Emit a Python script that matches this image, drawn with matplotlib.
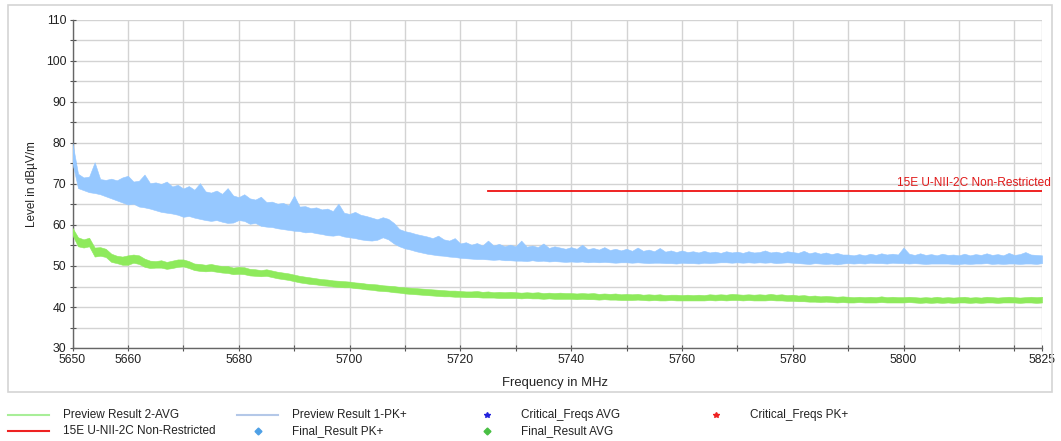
import numpy as np
import matplotlib
matplotlib.use('Agg')
import matplotlib.pyplot as plt
from matplotlib.lines import Line2D
from matplotlib.patches import Rectangle

plt.rcParams['font.family'] = ['Liberation Sans', 'DejaVu Sans']

# frequency grid of the read-off envelopes (1 MHz)
freq = np.arange(5650, 5826)

# Preview Result 1-PK+ : upper / lower edge of the noisy trace (dBuV/m)
pk_hi = [80.0, 72.5, 71.6, 71.8, 75.3, 71.2, 71.0, 71.3, 70.9, 71.6,
         72.0, 70.6, 70.8, 72.3, 70.2, 70.4, 70.0, 70.6, 69.4, 69.8,
         68.9, 69.5, 68.6, 70.2, 68.2, 67.9, 68.4, 67.6, 69.0, 67.2,
         66.8, 67.5, 66.5, 66.2, 66.9, 65.6, 65.7, 65.2, 65.4, 64.8,
         67.2, 64.5, 64.6, 64.1, 64.3, 63.8, 64.0, 63.4, 65.2, 63.0,
         62.7, 63.2, 62.5, 62.2, 61.8, 61.4, 61.9, 61.5, 60.5, 59.0,
         58.5, 58.2, 57.8, 57.5, 57.2, 56.8, 57.4, 56.5, 56.2, 56.8,
         55.5, 55.8, 55.2, 55.6, 55.0, 56.2, 55.0, 55.4, 54.8, 55.2,
         54.8, 56.2, 54.7, 55.0, 54.6, 55.5, 54.4, 54.8, 54.5, 54.2,
         54.6, 54.2, 55.2, 54.1, 54.4, 54.0, 54.6, 53.9, 54.2, 53.8,
         54.2, 53.7, 54.5, 53.7, 54.0, 53.6, 54.4, 53.5, 53.8, 53.4,
         53.8, 53.4, 53.6, 53.3, 53.7, 53.3, 53.5, 53.2, 53.6, 53.3,
         53.5, 53.2, 53.6, 53.3, 53.4, 53.8, 53.3, 53.5, 53.2, 53.6,
         53.4, 53.2, 53.7, 53.1, 53.4, 53.0, 53.3, 52.9, 53.2, 52.8,
         52.8, 52.6, 52.9, 52.6, 53.0, 52.7, 53.1, 52.8, 53.0, 52.8,
         54.5, 53.0, 52.7, 53.1, 52.7, 52.9, 52.6, 53.0, 52.7, 52.8,
         52.6, 53.0, 52.6, 52.9, 52.7, 53.1, 52.7, 52.9, 52.6, 53.2,
         52.7, 52.9, 53.4, 52.8, 52.7, 52.6]
pk_lo = [75.0, 69.0, 68.5, 68.0, 67.8, 67.5, 67.0, 66.5, 66.0, 65.5,
         65.0, 65.2, 64.5, 64.3, 64.0, 63.6, 63.2, 63.0, 62.8, 62.5,
         62.0, 62.2, 61.8, 61.5, 61.2, 61.0, 61.2, 60.8, 60.5, 60.6,
         61.2, 61.0, 60.3, 60.5, 59.8, 59.6, 59.5, 59.2, 59.0, 58.8,
         58.6, 58.5, 58.2, 58.3, 58.0, 57.8, 57.5, 57.4, 57.6, 57.2,
         57.0, 56.8, 56.5, 56.3, 56.2, 56.4, 57.0, 56.5, 55.5, 54.8,
         54.3, 54.0, 53.6, 53.3, 53.0, 52.8, 52.6, 52.5, 52.3, 52.2,
         52.0, 51.9, 51.8, 51.7, 51.7, 51.6, 51.5, 51.6, 51.4, 51.4,
         51.3, 51.3, 51.2, 51.4, 51.2, 51.3, 51.1, 51.2, 51.1, 51.0,
         51.1, 51.0, 51.1, 50.9, 51.0, 50.9, 51.0, 50.9, 50.8, 50.9,
         50.9, 50.8, 50.9, 50.8, 50.7, 50.8, 50.8, 50.7, 50.7, 50.6,
         50.8, 50.7, 50.7, 50.6, 50.8, 50.7, 50.8, 50.9, 50.9, 50.8,
         50.9, 50.8, 50.9, 50.8, 50.9, 50.8, 50.9, 50.7, 50.8, 50.9,
         50.8, 50.7, 50.6, 50.5, 50.7, 50.6, 50.5, 50.6, 50.4, 50.6,
         50.7, 50.6, 50.7, 50.6, 50.8, 50.7, 50.7, 50.6, 50.8, 50.7,
         50.7, 50.6, 50.7, 50.6, 50.5, 50.6, 50.6, 50.6, 50.6, 50.5,
         50.5, 50.6, 50.5, 50.6, 50.6, 50.7, 50.5, 50.6, 50.5, 50.6,
         50.6, 50.5, 50.6, 50.6, 50.5, 50.7]

# Preview Result 2-AVG : upper / lower edge
avg_hi = [59.3, 57.0, 56.5, 56.9, 54.5, 54.6, 54.2, 53.0, 52.5, 52.3,
          52.6, 52.8, 52.6, 51.8, 51.3, 51.2, 51.4, 51.0, 51.3, 51.6,
          51.6, 51.2, 50.6, 50.5, 50.3, 50.5, 50.2, 50.0, 50.0, 49.6,
          49.8, 49.7, 49.3, 49.2, 49.0, 49.2, 48.9, 48.6, 48.4, 48.2,
          47.9, 47.6, 47.4, 47.2, 47.0, 46.8, 46.7, 46.5, 46.4, 46.3,
          46.2, 46.0, 45.9, 45.7, 45.6, 45.5, 45.3, 45.2, 45.1, 44.9,
          44.8, 44.7, 44.6, 44.5, 44.4, 44.3, 44.2, 44.1, 44.0, 44.0,
          43.9, 43.8, 43.8, 43.9, 43.7, 43.8, 43.6, 43.7, 43.6, 43.7,
          43.6, 43.5, 43.6, 43.5, 43.6, 43.4, 43.5, 43.4, 43.5, 43.4,
          43.4, 43.3, 43.4, 43.3, 43.4, 43.2, 43.3, 43.2, 43.3, 43.1,
          43.2, 43.1, 43.2, 43.0, 43.1, 43.0, 43.1, 42.9, 43.0, 43.0,
          42.9, 43.0, 42.9, 43.0, 42.9, 43.1, 43.0, 43.1, 43.0, 43.2,
          43.1, 43.0, 43.1, 43.0, 43.1, 43.0, 43.2, 43.0, 43.1, 42.9,
          43.0, 42.8, 42.9, 42.7, 42.8, 42.6, 42.7, 42.6, 42.5, 42.6,
          42.5, 42.4, 42.5, 42.4, 42.5, 42.4, 42.6, 42.4, 42.5, 42.4,
          42.4, 42.5, 42.4, 42.3, 42.4, 42.3, 42.5, 42.3, 42.4, 42.3,
          42.4, 42.5, 42.3, 42.4, 42.3, 42.5, 42.4, 42.3, 42.4, 42.5,
          42.4, 42.3, 42.4, 42.5, 42.4, 42.5]
avg_lo = [57.5, 54.8, 54.5, 54.8, 52.3, 52.5, 52.2, 51.0, 50.7, 50.3,
          50.3, 50.8, 50.5, 49.8, 49.5, 49.6, 49.6, 49.3, 49.5, 49.8,
          49.9, 49.5, 49.0, 48.8, 48.7, 48.8, 48.6, 48.4, 48.3, 48.0,
          48.1, 48.0, 47.7, 47.6, 47.5, 47.6, 47.3, 47.0, 46.8, 46.6,
          46.3, 46.0, 45.8, 45.6, 45.5, 45.3, 45.2, 45.0, 44.9, 44.8,
          44.8, 44.6, 44.5, 44.3, 44.2, 44.0, 43.9, 43.8, 43.6, 43.5,
          43.3, 43.2, 43.1, 43.0, 42.9, 42.8, 42.7, 42.6, 42.6, 42.5,
          42.5, 42.4, 42.4, 42.4, 42.3, 42.3, 42.3, 42.2, 42.2, 42.2,
          42.2, 42.1, 42.2, 42.1, 42.1, 42.0, 42.1, 42.0, 42.0, 42.0,
          42.0, 41.9, 42.0, 41.9, 41.9, 41.8, 41.9, 41.8, 41.8, 41.7,
          41.7, 41.7, 41.8, 41.7, 41.6, 41.7, 41.6, 41.6, 41.7, 41.6,
          41.6, 41.6, 41.6, 41.6, 41.6, 41.7, 41.6, 41.7, 41.6, 41.7,
          41.7, 41.6, 41.7, 41.6, 41.6, 41.6, 41.7, 41.6, 41.6, 41.5,
          41.5, 41.4, 41.4, 41.3, 41.3, 41.2, 41.3, 41.2, 41.1, 41.2,
          41.1, 41.1, 41.2, 41.1, 41.1, 41.1, 41.2, 41.1, 41.1, 41.1,
          41.1, 41.2, 41.1, 41.0, 41.1, 41.0, 41.1, 41.0, 41.1, 41.0,
          41.1, 41.1, 41.0, 41.1, 41.0, 41.1, 41.1, 41.0, 41.1, 41.1,
          41.1, 41.0, 41.1, 41.1, 41.0, 41.1]

# limit line
limit_f = [5725, 5825]
limit_lvl = [68.2, 68.2]
limit_name = '15E U-NII-2C Non-Restricted'

xticks = [5650, 5660, 5670, 5680, 5690, 5700, 5710, 5720, 5730, 5740, 5750,
          5760, 5770, 5780, 5790, 5800, 5810, 5820, 5825]
xlabels = ['5650', '5660', '', '5680', '', '5700', '', '5720', '', '5740', '',
           '5760', '', '5780', '', '5800', '', '', '5825']
yticks = np.arange(30, 111, 5)
ylabels = [str(v) if v % 10 == 0 else '' for v in yticks]

c_pk = '#96c8ff'
c_avg = '#8eea5c'
c_grid = '#d3d3d3'

W, H = 1061, 441
fig = plt.figure(figsize=(W / 100, H / 100), dpi=100)
ax = fig.add_axes([72.5 / W, 1 - 348 / H, (1042 - 72.5) / W, (348 - 20) / H])
ax.set_facecolor('none')

# outer frame
fig.add_artist(Rectangle((8 / W, 1 - 392 / H), (1052 - 8) / W, (392 - 5) / H,
                         transform=fig.transFigure, fill=False,
                         edgecolor='#d4d4d4', linewidth=1.2))

ax.fill_between(freq, pk_lo, pk_hi, color=c_pk, linewidth=0.4, zorder=3)
ax.fill_between(freq, avg_lo, avg_hi, color=c_avg, linewidth=0.4, zorder=4)
ax.plot(limit_f, limit_lvl, color='#ee1111', linewidth=1.3, zorder=5)
ax.text(5826.6, 68.9, limit_name, color='#e01818', fontsize=8.6,
        ha='right', va='bottom', clip_on=False, zorder=6)

ax.set_xlim(5650, 5825)
ax.set_ylim(30, 110)
ax.set_xticks(xticks)
ax.set_xticklabels(xlabels)
ax.set_yticks(yticks)
ax.set_yticklabels(ylabels)
ax.grid(True, color=c_grid, linewidth=1.0, zorder=0)
ax.set_axisbelow(True)
ax.tick_params(direction='inout', length=5, width=0.8, color='#555555',
               labelsize=8.8, labelcolor='#222222', pad=2)
for s in ['top', 'right']:
    ax.spines[s].set_visible(False)
for s in ['left', 'bottom']:
    ax.spines[s].set_color('#666666')
    ax.spines[s].set_linewidth(1.0)

fig.text(555 / W, 1 - 383 / H, 'Frequency in MHz', fontsize=9.4,
         color='#222222', ha='center', va='center')
fig.text(32 / W, 1 - 184 / H, 'Level in dB\u00b5V/m', fontsize=8.5,
         color='#222222', ha='center', va='center', rotation=90)

# legend below the frame, four equally spaced columns
leg_items = [
    (63, 415, 'line', '#a8ee98', 'Preview Result 2-AVG'),
    (63, 431, 'line', '#ee2222', '15E U-NII-2C Non-Restricted'),
    (292, 415, 'line', '#b4c8e8', 'Preview Result 1-PK+'),
    (292, 431, 'D', '#4ea0e6', 'Final_Result PK+'),
    (521, 415, '*', '#2222dd', 'Critical_Freqs AVG'),
    (521, 431, 'D', '#49bf44', 'Final_Result AVG'),
    (750, 415, '*', '#ee2222', 'Critical_Freqs PK+'),
]
for tx, ty, kind, col, lab in leg_items:
    yy = 1 - ty / H
    if kind == 'line':
        fig.add_artist(Line2D([(tx - 55) / W, (tx - 14) / W], [yy, yy],
                              transform=fig.transFigure, color=col,
                              linewidth=1.5))
    else:
        ms = 3.5 if kind == 'D' else 4
        fig.add_artist(Line2D([(tx - 34) / W], [yy], transform=fig.transFigure,
                              marker=kind, markersize=ms, color=col,
                              linestyle='none'))
    fig.text(tx / W, yy, lab, fontsize=8.5, color='#222222', ha='left',
             va='center')

fig.savefig('out.png', dpi=100)
